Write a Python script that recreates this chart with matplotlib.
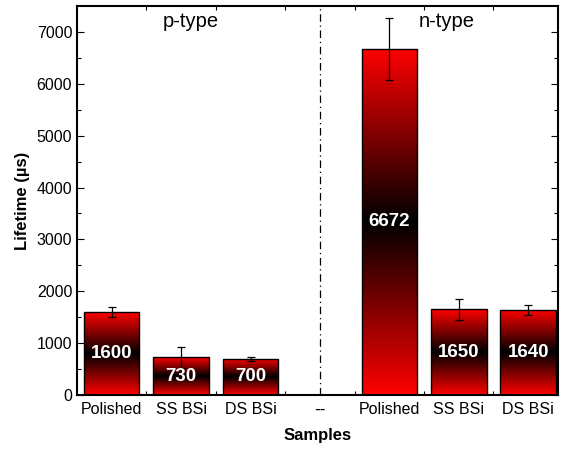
import matplotlib
matplotlib.use("Agg")
import matplotlib.pyplot as plt
import numpy as np
from matplotlib.colors import LinearSegmentedColormap

plt.rcParams["font.family"] = ["Liberation Sans", "DejaVu Sans"]

# data
SAMPLES = ["Polished", "SS BSi", "DS BSi", "--", "Polished", "SS BSi", "DS BSi"]
LIFETIME = [1600, 730, 700, None, 6672, 1650, 1640]
ERRORS = [100, 200, 40, None, 600, 195, 100]
GROUPS = ["p-type", "n-type"]

cmap = LinearSegmentedColormap.from_list("rbr", ["#ff0000", "#000000", "#ff0000"])
grad = np.linspace(0, 1, 256).reshape(-1, 1)

fig = plt.figure(figsize=(5.62, 4.5), dpi=100)
ax = fig.add_axes([77 / 562, 55 / 450, 481 / 562, 389 / 450])

x = np.arange(len(SAMPLES))
w = 0.8
for xi, val, err in zip(x, LIFETIME, ERRORS):
    if val is None:
        continue
    bar = ax.bar(xi, val, w, color="none", edgecolor="black", lw=1.0, zorder=3)[0]
    im = ax.imshow(grad, cmap=cmap, aspect="auto", origin="lower",
                   extent=(xi - w / 2, xi + w / 2, 0, val), zorder=2)
    im.set_clip_path(bar)
    ax.errorbar(xi, val, yerr=err, fmt="none", ecolor="black", elinewidth=0.9,
                capsize=3, capthick=0.9, zorder=4)
    ax.text(xi, val / 2, f"{val}", color="white", fontsize=13.5, fontweight="bold",
            ha="center", va="center", zorder=5)

ax.axvline(3, color="black", lw=0.9, ls=(0, (6, 3, 1, 3)), zorder=1)
ax.text(1.14, 7210, GROUPS[0], fontsize=14.5, ha="center", va="center")
ax.text(4.82, 7210, GROUPS[1], fontsize=14.5, ha="center", va="center")

ax.set_xlim(-0.5, 6.43)
ax.set_ylim(0, 7500)
ax.set_xticks(x)
ax.set_xticklabels(SAMPLES, fontsize=11.5)
ax.get_xticklabels()[3].set_fontfamily("DejaVu Sans")
ax.tick_params(axis="x", which="major", length=0, pad=5)
ax.set_xticks(x[:-1] + 0.5, minor=True)
ax.tick_params(axis="x", which="minor", direction="in", length=3, top=True, width=0.8)
ax.set_yticks(np.arange(0, 7001, 1000))
ax.set_yticks(np.arange(500, 7500, 1000), minor=True)
ax.tick_params(axis="y", which="major", direction="in", length=5, right=True, width=0.8, labelsize=11.5)
ax.tick_params(axis="y", which="minor", direction="in", length=3, right=True, width=0.8)
for s in ax.spines.values():
    s.set_linewidth(1.5)

ax.set_xlabel("Samples", fontsize=12, fontweight="bold", labelpad=8)
ax.set_ylabel("Lifetime (\u00b5s)", fontsize=12, fontweight="bold", labelpad=5)

fig.savefig("out.png", dpi=100)
